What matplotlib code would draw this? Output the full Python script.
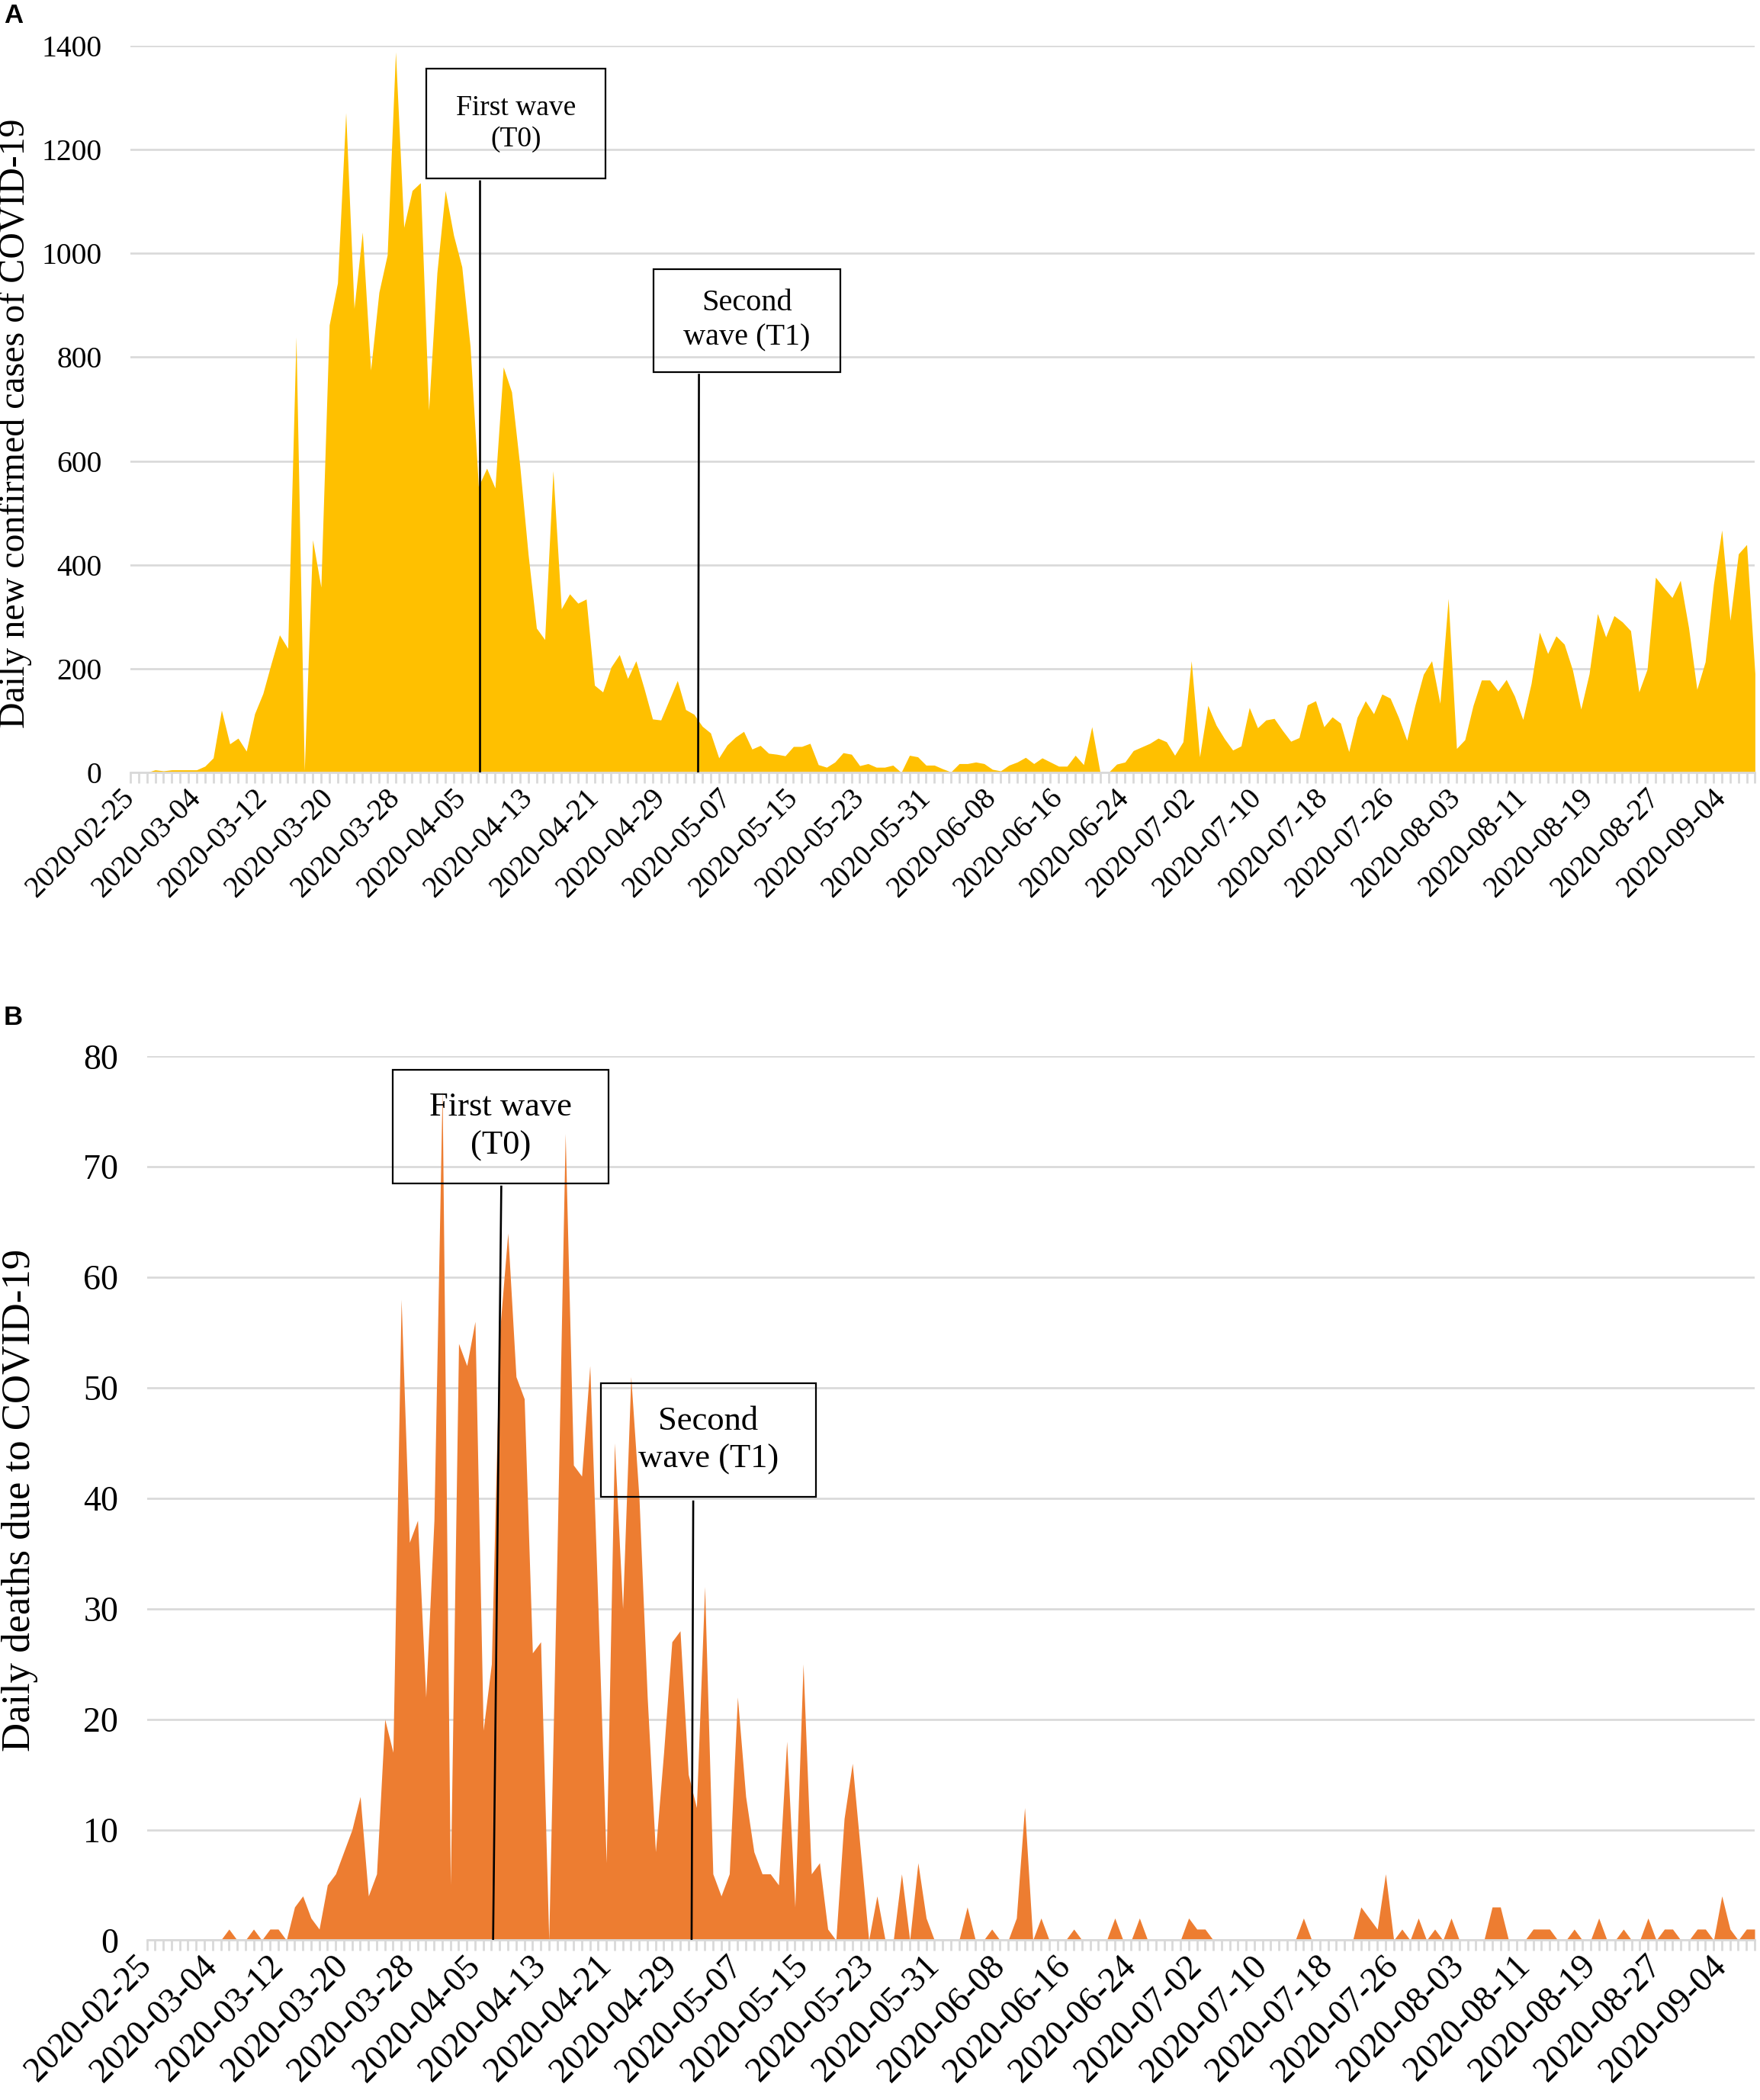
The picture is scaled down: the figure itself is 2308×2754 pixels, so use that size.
import matplotlib
matplotlib.use("Agg")
import matplotlib.pyplot as plt
from matplotlib.patches import Rectangle
import pandas as pd
import numpy as np

# ---------------- data ----------------
start_date = "2020-02-25"
n_days = 197
dates = pd.date_range(start_date, periods=n_days).strftime("%Y-%m-%d").tolist()
tick_step = 8

cases = [
    0, 0, 0, 5, 3, 5, 5, 5, 5, 12,
    28, 120, 55, 66, 41, 113, 152, 210, 265, 239,
    839, 3, 448, 357, 862, 943, 1271, 894, 1041, 775,
    925, 997, 1388, 1050, 1121, 1136, 698, 963, 1121, 1035,
    974, 821, 551, 586, 548, 781, 733, 590, 420, 278,
    256, 581, 315, 344, 326, 334, 168, 155, 203, 227,
    181, 215, 161, 103, 101, 139, 177, 121, 112, 89,
    76, 28, 53, 68, 79, 45, 52, 37, 35, 32,
    50, 50, 56, 15, 10, 20, 38, 35, 13, 17,
    10, 10, 14, 0, 33, 30, 14, 14, 7, 1,
    17, 17, 20, 17, 6, 3, 14, 20, 29, 17,
    28, 20, 12, 12, 33, 15, 88, 0, 0, 16,
    20, 42, 49, 56, 66, 59, 33, 59, 215, 30,
    129, 91, 65, 43, 51, 125, 86, 101, 104, 81,
    60, 67, 130, 138, 88, 107, 95, 40, 106, 138,
    113, 151, 143, 106, 62, 130, 189, 215, 133, 335,
    46, 63, 129, 178, 178, 157, 179, 147, 102, 171,
    270, 229, 263, 247, 197, 122, 190, 306, 261, 302,
    290, 273, 155, 199, 376, 356, 337, 370, 279, 160,
    213, 362, 467, 293, 421, 439, 190,
]

deaths = [
    0, 0, 0, 0, 0, 0, 0, 0, 0, 0,
    1, 0, 0, 1, 0, 1, 1, 0, 3, 4,
    2, 1, 5, 6, 8, 10, 13, 4, 6, 20,
    17, 58, 36, 38, 22, 38, 77, 5, 54, 52,
    56, 19, 25, 55, 64, 51, 49, 26, 27, 0,
    35, 73, 43, 42, 52, 30, 7, 45, 30, 51,
    40, 22, 8, 17, 27, 28, 15, 12, 32, 6,
    4, 6, 22, 13, 8, 6, 6, 5, 18, 3,
    25, 6, 7, 1, 0, 11, 16, 8, 0, 4,
    0, 0, 6, 0, 7, 2, 0, 0, 0, 0,
    3, 0, 0, 1, 0, 0, 2, 12, 0, 2,
    0, 0, 0, 1, 0, 0, 0, 0, 2, 0,
    0, 2, 0, 0, 0, 0, 0, 2, 1, 1,
    0, 0, 0, 0, 0, 0, 0, 0, 0, 0,
    0, 2, 0, 0, 0, 0, 0, 0, 3, 2,
    1, 6, 0, 1, 0, 2, 0, 1, 0, 2,
    0, 0, 0, 0, 3, 3, 0, 0, 0, 1,
    1, 1, 0, 0, 1, 0, 0, 2, 0, 0,
    1, 0, 0, 2, 0, 1, 1, 0, 0, 1,
    1, 0, 4, 1, 0, 1, 1,
]

cases_yticks = [0, 200, 400, 600, 800, 1000, 1200, 1400]
deaths_yticks = [0, 10, 20, 30, 40, 50, 60, 70, 80]

# ---------------- style ----------------
SERIF = ["Liberation Serif", "DejaVu Serif"]
SANS = ["Liberation Sans", "DejaVu Sans"]
GRID = "#d9d9d9"
W, H = 2308, 2754
fig = plt.figure(figsize=(W / 100, H / 100), dpi=100)


def px_axes(x0, x1, y0, y1):
    return fig.add_axes([x0 / W, 1 - y1 / H, (x1 - x0) / W, (y1 - y0) / H])


def style_axes(ax, values, color, yticks, tick_fs):
    x = np.arange(len(values))
    ax.fill_between(x, 0, values, color=color, linewidth=0, zorder=2)
    ax.set_xlim(0, len(values) - 1)
    ax.set_ylim(yticks[0], yticks[-1])
    ax.set_yticks(yticks)
    ax.set_yticklabels([str(t) for t in yticks], fontfamily=SERIF, fontsize=tick_fs)
    ax.yaxis.grid(True, color=GRID, linewidth=1.9, zorder=0)
    ax.set_axisbelow(True)
    major = list(range(0, len(values), tick_step))
    ax.set_xticks(major)
    ax.set_xticklabels([dates[i] for i in major], rotation=45, ha="right",
                       va="center", rotation_mode="anchor",
                       fontfamily=SERIF, fontsize=tick_fs)
    ax.set_xticks(list(range(len(values))), minor=True)
    ax.tick_params(axis="x", which="both", length=10, width=2, color=GRID,
                   direction="out", pad=10)
    ax.tick_params(axis="y", which="both", length=0, pad=27)
    for s in ["top", "right", "left"]:
        ax.spines[s].set_visible(False)
    ax.spines["bottom"].set_color(GRID)
    ax.spines["bottom"].set_linewidth(2)
    ax.spines["bottom"].set_zorder(3)


def wave_box(ax, x0, x1, y0, y1, text, fs, lsp, line_top, line_bot):
    ax.add_patch(Rectangle((x0, y0), x1 - x0, y1 - y0, fill=False,
                           edgecolor="black", linewidth=1.6, zorder=5,
                           clip_on=False))
    ax.text((x0 + x1) / 2, (y0 + y1) / 2, text, ha="center", va="center",
            fontfamily=SERIF, fontsize=fs, linespacing=lsp, zorder=6)
    ax.plot([line_top[0], line_bot[0]], [line_top[1], line_bot[1]],
            color="black", linewidth=1.9, zorder=5, solid_capstyle="butt")


# ---------------- panel A ----------------
axA = px_axes(170.9, 2301.4, 60, 1013)
style_axes(axA, cases, "#FFC000", cases_yticks, 28.5)
wave_box(axA, 35.7, 57.3, 1144, 1356, "First wave\n(T0)", 27, 1.25,
         (42.1, 1141), (42.1, 0))
wave_box(axA, 63.1, 85.7, 771, 970, "Second\nwave (T1)", 29, 1.3,
         (68.6, 768), (68.5, 0))
fig.text(20 / W, 1 - 555 / H, "Daily new confirmed cases of COVID-19",
         rotation=90, ha="center", va="center", fontfamily=SERIF, fontsize=34.5)
fig.text(5 / W, 1 - 21 / H, "A", ha="left", va="center",
         fontfamily=SANS, fontweight="bold", fontsize=25)

# ---------------- panel B ----------------
axB = px_axes(192.7, 2301.0, 1385.3, 2544.4)
style_axes(axB, deaths, "#ED7D31", deaths_yticks, 33)
wave_box(axB, 30.0, 56.3, 68.5, 78.8, "First wave\n(T0)", 32, 1.32,
         (43.2, 68.3), (42.2, 0))
wave_box(axB, 55.3, 81.6, 40.1, 50.4, "Second\nwave (T1)", 32, 1.32,
         (66.6, 39.8), (66.4, 0))
fig.text(26 / W, 1 - 1967 / H, "Daily deaths due to COVID-19",
         rotation=90, ha="center", va="center", fontfamily=SERIF, fontsize=38)
fig.text(5 / W, 1 - 1335 / H, "B", ha="left", va="center",
         fontfamily=SANS, fontweight="bold", fontsize=25)

fig.savefig("out.png", dpi=100, facecolor="white")
